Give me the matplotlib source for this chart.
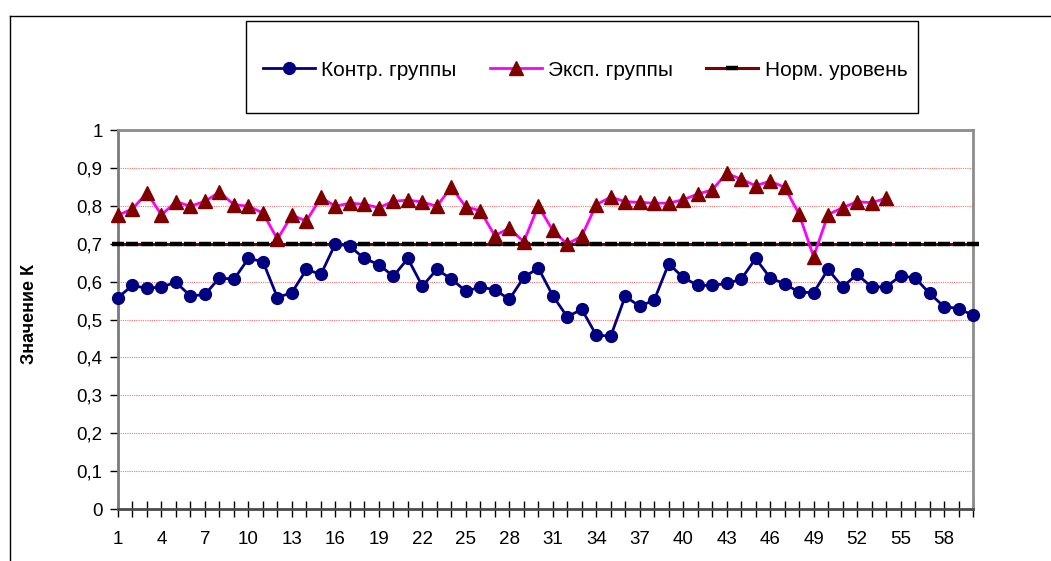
import matplotlib
matplotlib.use("Agg")
import matplotlib.pyplot as plt
from matplotlib.lines import Line2D
from matplotlib.patches import Rectangle

plt.rcParams['font.family'] = ['Liberation Sans', 'DejaVu Sans']

# --- data ---
categories = list(range(1, 61))
x_tick_labels = [str(c) if (c - 1) % 3 == 0 else '' for c in categories]
y_ticks = [0, 0.1, 0.2, 0.3, 0.4, 0.5, 0.6, 0.7, 0.8, 0.9, 1.0]
y_tick_labels = ['0', '0,1', '0,2', '0,3', '0,4', '0,5', '0,6', '0,7', '0,8', '0,9', '1']

control = [0.558, 0.590, 0.582, 0.586, 0.598, 0.562, 0.566, 0.610, 0.606, 0.661,
           0.653, 0.558, 0.571, 0.632, 0.619, 0.700, 0.693, 0.661, 0.645, 0.614,
           0.661, 0.588, 0.632, 0.607, 0.575, 0.585, 0.579, 0.553, 0.611, 0.636,
           0.563, 0.507, 0.527, 0.459, 0.456, 0.561, 0.535, 0.551, 0.647, 0.611,
           0.590, 0.590, 0.595, 0.606, 0.661, 0.610, 0.594, 0.572, 0.571, 0.632,
           0.586, 0.619, 0.586, 0.586, 0.615, 0.610, 0.569, 0.534, 0.529, 0.511]

experimental = [0.775, 0.792, 0.834, 0.776, 0.811, 0.799, 0.812, 0.836, 0.803, 0.799,
                0.781, 0.712, 0.775, 0.760, 0.822, 0.799, 0.807, 0.804, 0.795, 0.812,
                0.815, 0.810, 0.799, 0.849, 0.797, 0.787, 0.721, 0.741, 0.705, 0.800,
                0.735, 0.699, 0.720, 0.803, 0.823, 0.811, 0.809, 0.807, 0.807, 0.816,
                0.831, 0.842, 0.886, 0.870, 0.853, 0.865, 0.849, 0.778, 0.666, 0.777,
                0.795, 0.811, 0.808, 0.820]

norm_level = 0.7
norm_values = [norm_level] * len(categories)

W, H = 1051, 561
fig = plt.figure(figsize=(W / 100, H / 100), dpi=100)

# outer chart border (only left and top visible)
fig.add_artist(Line2D([10 / W, 10 / W], [0, 1 - 16 / H], transform=fig.transFigure,
                      color='black', lw=1))
fig.add_artist(Line2D([10 / W, 1], [1 - 16 / H, 1 - 16 / H], transform=fig.transFigure,
                      color='black', lw=1))

# plot area
left, right, top, bottom = 118, 973, 130, 509
ax = fig.add_axes([left / W, 1 - bottom / H, (right - left) / W, (bottom - top) / H])

for y in y_ticks[1:]:
    ax.axhline(y, color='#ff7070', lw=0.8, linestyle=(0, (1, 1)), zorder=1)

ax.plot(categories, norm_values, color='#800000', lw=2.2, marker='_',
        markersize=9, markeredgewidth=3.2, markeredgecolor='black',
        label='Норм. уровень', zorder=3, clip_on=False)
ax.plot(categories, control, color='#000080', lw=2, marker='o', markersize=8.5,
        markerfacecolor='#000080', markeredgecolor='#000080',
        label='Контр. группы', zorder=4, clip_on=False)
ax.plot(categories[:len(experimental)], experimental, color='#ff00ff', lw=2,
        marker='^', markersize=10.5, markerfacecolor='#800000',
        markeredgecolor='#800000', label='Эксп. группы', zorder=5, clip_on=False)

ax.set_xlim(1, 60)
ax.set_ylim(0, 1)
ax.set_xticks(categories)
ax.set_xticklabels(x_tick_labels, fontsize=13.5)
ax.set_yticks(y_ticks)
ax.set_yticklabels(y_tick_labels, fontsize=13.5)
ax.tick_params(axis='x', direction='inout', length=12, width=1, pad=10, colors='black')
ax.tick_params(axis='y', direction='out', length=6, width=1, pad=5, colors='black')

ax.spines['top'].set_color('#8c8c8c')
ax.spines['right'].set_color('#8c8c8c')
ax.spines['left'].set_color('#7a7a7a')
ax.spines['bottom'].set_color('#4a4a4a')
for s in ax.spines.values():
    s.set_linewidth(2)

fig.text(29 / W, 1 - 314 / H, 'Значение К', rotation=90, ha='center', va='center',
         fontsize=13, fontweight='bold')

# legend box
fig.add_artist(Rectangle((246 / W, 1 - 113 / H), (918 - 246) / W, (113 - 21) / H,
                         transform=fig.transFigure, fill=False, edgecolor='black', lw=1))
handles, labels = ax.get_legend_handles_labels()
order = [1, 2, 0]
fig.legend([handles[i] for i in order], [labels[i] for i in order],
           loc='center', bbox_to_anchor=(585 / W, 1 - 70 / H), ncol=3,
           frameon=False, fontsize=15, handlelength=2.5, handletextpad=0.3,
           columnspacing=1.6)

fig.savefig('out.png', dpi=100)
